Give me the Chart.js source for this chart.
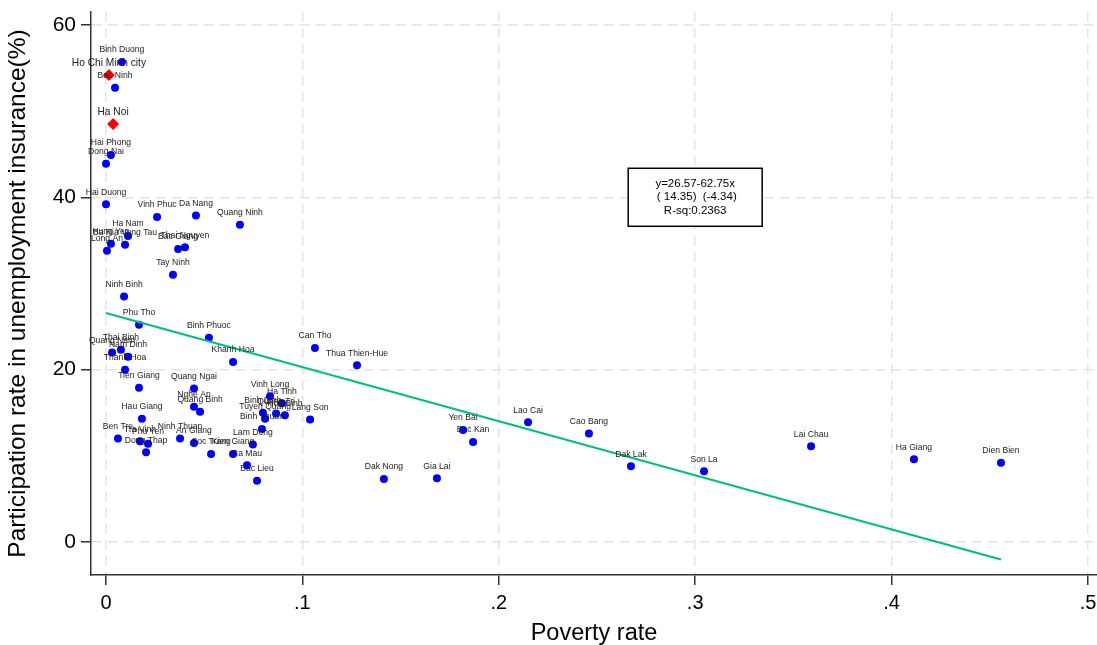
<!DOCTYPE html>
<html>
<head>
<meta charset="utf-8">
<script src="https://cdn.jsdelivr.net/npm/chart.js@4"></script>
<style>
  body { margin: 0; background: #fff; }
  #chart { display: block; }
</style>
</head>
<body>
<canvas id="chart" width="1097" height="645"></canvas>
<script>
// provinces (blue dots)
const provinces = [
  'Binh Duong', 'Bac Ninh', 'Hai Phong', 'Dong Nai', 'Hai Duong', 'Vinh Phuc', 'Da Nang', 'Quang Ninh',
  'Ha Nam', 'Ba Ria Vung Tau', 'Hung Yen', 'Long An', 'Bac Giang', 'Thai Nguyen', 'Tay Ninh', 'Ninh Binh',
  'Phu Tho', 'Binh Phuoc', 'Quang Nam', 'Thai Binh', 'Nam Dinh', 'Khanh Hoa', 'Thanh Hoa', 'Tien Giang',
  'Quang Ngai', 'Nghe An', 'Quang Binh', 'Hau Giang', 'Ben Tre', 'Tra Vinh', 'Phu Yen', 'Dong Thap',
  'Ninh Thuan', 'An Giang', 'Soc Trang', 'Kien Giang', 'Lam Dong', 'Ca Mau', 'Bac Lieu', 'Vinh Long',
  'Ha Tinh', 'Binh Dinh', 'Quang Tri', 'Hoa Binh', 'Tuyen Quang', 'Binh Thuan', 'Lang Son', 'Can Tho',
  'Thua Thien-Hue', 'Dak Nong', 'Gia Lai', 'Yen Bai', 'Bac Kan', 'Lao Cai', 'Cao Bang', 'Dak Lak',
  'Son La', 'Lai Chau', 'Ha Giang', 'Dien Bien'
];
const povertyRate = [
  0.0081, 0.0046, 0.0025, 0.0000, 0.0000, 0.0260, 0.0458, 0.0682,
  0.0112, 0.0097, 0.0025, 0.0005, 0.0367, 0.0402, 0.0341, 0.0092,
  0.0168, 0.0524, 0.0031, 0.0076, 0.0112, 0.0647, 0.0097, 0.0168,
  0.0448, 0.0448, 0.0479, 0.0183, 0.0061, 0.0173, 0.0214, 0.0204,
  0.0377, 0.0448, 0.0535, 0.0647, 0.0748, 0.0718, 0.0769, 0.0835,
  0.0896, 0.0799, 0.0866, 0.0911, 0.0810, 0.0794, 0.1039, 0.1064,
  0.1278, 0.1415, 0.1685, 0.1818, 0.1869, 0.2149, 0.2459, 0.2673,
  0.3045, 0.3590, 0.4114, 0.4557
];
const uiRate = [
  55.7, 52.7, 44.9, 43.9, 39.2, 37.7, 37.9, 36.8,
  35.5, 34.5, 34.6, 33.8, 34.0, 34.2, 31.0, 28.5,
  25.2, 23.7, 22.0, 22.3, 21.5, 20.9, 20.0, 17.9,
  17.8, 15.7, 15.1, 14.3, 12.0, 11.7, 11.4, 10.4,
  12.0, 11.5, 10.2, 10.2, 11.3, 8.9, 7.1, 16.9,
  16.1, 15.0, 14.9, 14.7, 14.3, 13.1, 14.2, 22.5,
  20.5, 7.3, 7.4, 13.0, 11.6, 13.9, 12.6, 8.8,
  8.2, 11.1, 9.6, 9.2
];

// the two big cities (red diamonds)
const bigCities = ['Ho Chi Minh city', 'Ha Noi'];
const bigCityPoverty = [0.0015, 0.0036];
const bigCityUi = [54.2, 48.5];

// fitted line and its annotation
const fitIntercept = 26.57;
const fitSlope = -62.75;
const fitText = ['y=26.57-62.75x', ' ( 14.35)  (-4.34)', 'R-sq:0.2363'];
const fitTextAt = { x: 0.3, y: 40 };

const xTicks = [0, 0.1, 0.2, 0.3, 0.4, 0.5];
const yTicks = [0, 20, 40, 60];

const FONT = '"Liberation Sans", Arial, sans-serif';

const points = provinces.map((p, i) => ({ x: povertyRate[i], y: uiRate[i] }));
const cityPoints = bigCities.map((p, i) => ({ x: bigCityPoverty[i], y: bigCityUi[i] }));
const allX = povertyRate.concat(bigCityPoverty);
const xLo = Math.min(...allX), xHi = Math.max(...allX);
const fitLine = [xLo, xHi].map(x => ({ x: x, y: fitIntercept + fitSlope * x }));

const pointLabels = {
  id: 'pointLabels',
  afterDatasetsDraw(chart) {
    const ctx = chart.ctx;
    ctx.save();
    ctx.fillStyle = '#222';
    ctx.textAlign = 'center';
    ctx.textBaseline = 'middle';
    const sets = [[0, provinces, 8.6], [1, bigCities, 10.2]];
    for (const [idx, names, size] of sets) {
      ctx.font = size + 'px ' + FONT;
      chart.getDatasetMeta(idx).data.forEach((pt, i) => {
        ctx.fillText(names[i], pt.x, pt.y - 12);
      });
    }
    ctx.restore();
  }
};

const fitBox = {
  id: 'fitBox',
  afterDatasetsDraw(chart) {
    const ctx = chart.ctx;
    const cx = chart.scales.x.getPixelForValue(fitTextAt.x);
    const cy = chart.scales.y.getPixelForValue(fitTextAt.y);
    const w = 134, h = 58;
    ctx.save();
    ctx.fillStyle = '#fff';
    ctx.fillRect(cx - w / 2, cy - h / 2, w, h);
    ctx.strokeStyle = '#000';
    ctx.lineWidth = 1.5;
    ctx.strokeRect(cx - w / 2, cy - h / 2, w, h);
    ctx.fillStyle = '#000';
    ctx.font = '11.5px ' + FONT;
    ctx.textAlign = 'center';
    ctx.textBaseline = 'middle';
    fitText.forEach((t, i) => ctx.fillText(t, cx, cy + (i - 1) * 13.5));
    ctx.restore();
  }
};

const gridOpts = {
  color: '#e4e4e4',
  lineWidth: 1.5,
  tickColor: '#333',
  tickWidth: 1.5,
  tickLength: 10,
  tickBorderDash: []
};

new Chart(document.getElementById('chart'), {
  type: 'scatter',
  data: {
    datasets: [
      {
        label: 'provinces',
        data: points,
        backgroundColor: '#0000ff',
        borderWidth: 0,
        pointRadius: 4,
        order: 2
      },
      {
        label: 'big cities',
        data: cityPoints,
        backgroundColor: '#ff0000',
        borderWidth: 0,
        pointStyle: 'rectRot',
        pointRadius: 6,
        order: 1
      },
      {
        type: 'line',
        label: 'fit',
        data: fitLine,
        borderColor: 'rgb(0,192,128)',
        borderWidth: 2.2,
        pointRadius: 0,
        fill: false,
        order: 0
      }
    ]
  },
  options: {
    responsive: false,
    animation: false,
    layout: { autoPadding: false, padding: { top: 12, right: 0, left: 0, bottom: 0 } },
    plugins: { legend: { display: false }, tooltip: { enabled: false } },
    scales: {
      x: {
        type: 'linear',
        min: -0.00764,
        max: 0.5046,
        afterBuildTicks: s => { s.ticks = xTicks.map(v => ({ value: v })); },
        afterFit: s => { s.height = 70; s.paddingLeft = 0; s.paddingRight = 0; },
        ticks: {
          font: { family: FONT, size: 20 },
          color: '#000',
          padding: 6,
          maxRotation: 0,
          callback: v => v === 0 ? '0' : String(v).replace(/^0/, '')
        },
        grid: gridOpts,
        border: { color: '#333', width: 1.5, dash: [10, 6] },
        title: {
          display: true,
          text: 'Poverty rate',
          font: { family: FONT, size: 23.5, lineHeight: 1 },
          color: '#000',
          padding: 0
        }
      },
      y: {
        min: -3.83,
        max: 61.5,
        afterBuildTicks: s => { s.ticks = yTicks.map(v => ({ value: v })); },
        afterFit: s => { s.width = 91; s.paddingTop = 0; s.paddingBottom = 0; },
        ticks: {
          font: { family: FONT, size: 21, lineHeight: 1 },
          color: '#000',
          padding: 5
        },
        grid: gridOpts,
        border: { color: '#333', width: 1.5, dash: [10, 6] },
        title: {
          display: true,
          text: 'Participation rate in unemployment insurance(%)',
          font: { family: FONT, size: 24.5, lineHeight: 1 },
          color: '#000',
          padding: { top: 6, bottom: 0 }
        }
      }
    }
  },
  plugins: [pointLabels, fitBox]
});
</script>
</body>
</html>
